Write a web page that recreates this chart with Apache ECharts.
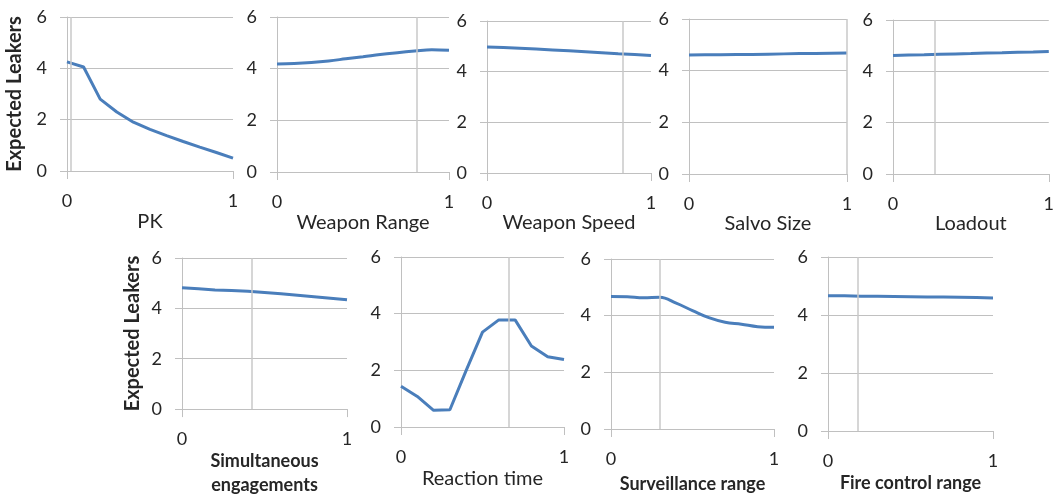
<!DOCTYPE html>
<html><head><meta charset="utf-8">
<script src="https://cdn.jsdelivr.net/npm/echarts@6/dist/echarts.min.js"></script>
<style>html,body{margin:0;padding:0;background:#fff}#c{width:1057px;height:498px}</style>
</head><body><div id="c"></div>
<script>
// ---- data ----
const xValues = [0, 0.1, 0.2, 0.3, 0.4, 0.5, 0.6, 0.7, 0.8, 0.9, 1];
const pk = [4.25, 4.05, 2.8, 2.3, 1.9, 1.62, 1.38, 1.15, 0.93, 0.72, 0.5];
const weaponRange = [4.18, 4.2, 4.24, 4.3, 4.38, 4.46, 4.55, 4.62, 4.68, 4.73, 4.71];
const weaponSpeed = [4.97, 4.95, 4.92, 4.89, 4.86, 4.83, 4.79, 4.75, 4.71, 4.68, 4.64];
const salvoSize = [4.61, 4.62, 4.62, 4.63, 4.63, 4.64, 4.65, 4.66, 4.66, 4.67, 4.68];
const loadout = [4.62, 4.64, 4.65, 4.67, 4.68, 4.69, 4.71, 4.72, 4.74, 4.75, 4.77];
const simultaneous = [4.82, 4.78, 4.73, 4.71, 4.68, 4.63, 4.58, 4.52, 4.46, 4.40, 4.34];
const reactionTime = [1.44, 1.08, 0.59, 0.61, 2.0, 3.35, 3.78, 3.78, 2.86, 2.48, 2.38];
const surveillance = [4.68, 4.67, 4.63, 4.65, 4.44, 4.18, 3.93, 3.77, 3.7, 3.61, 3.59];
const fireControl = [4.66, 4.66, 4.65, 4.65, 4.64, 4.63, 4.62, 4.62, 4.61, 4.60, 4.59];
const panelNames = ['PK', 'Weapon Range', 'Weapon Speed', 'Salvo Size', 'Loadout',
  'Simultaneous\nengagements', 'Reaction time', 'Surveillance range', 'Fire control range'];
const panelValues = [pk, weaponRange, weaponSpeed, salvoSize, loadout, simultaneous, reactionTime, surveillance, fireControl];
const baselineValues = [0.02, 0.81, 0.835, 1.0, 0.27, 0.42, 0.656, 0.305, 0.18];
const smoothFlags = [false, true, false, false, false, false, false, true, false];
const yTicks = [0, 2, 4, 6];
const yTitle = 'Expected Leakers';

// ---- layout ----
const grids = [
  {left: 67, top: 17, width: 166, height: 154},
  {left: 277, top: 17, width: 172, height: 155},
  {left: 487, top: 21, width: 164, height: 152},
  {left: 689, top: 19, width: 158, height: 155},
  {left: 893, top: 20, width: 162, height: 154},
  {left: 182, top: 258, width: 165, height: 166},
  {left: 401, top: 257, width: 163, height: 170},
  {left: 611, top: 259, width: 163, height: 170},
  {left: 828, top: 257, width: 165, height: 174}
];
const boldName = [false, false, false, false, false, true, false, true, true];
const nameGaps = [41, 41, 39, 33, 39, 30, 42, 43, 39];
const showYTitle = [true, false, false, false, false, true, false, false, false];

const font = 'Lato, "Open Sans", "Liberation Sans", sans-serif';
const txt = '#262626';
const gridCol = '#c0c0c0';

const option = {
  animation: false,
  backgroundColor: '#fff',
  grid: grids.map(g => Object.assign({containLabel: false}, g)),
  xAxis: grids.map((g, i) => ({
    type: 'value', gridIndex: i, min: 0, max: 1, interval: 1,
    name: panelNames[i], nameLocation: 'middle', nameGap: nameGaps[i],
    nameTextStyle: boldName[i]
      ? {fontFamily: font, fontSize: 18, fontWeight: 'bold', color: txt, lineHeight: 24}
      : {fontFamily: font, fontSize: 20, color: txt},
    axisLine: {show: true, lineStyle: {color: gridCol, width: 1}},
    axisTick: {show: true, length: 8, lineStyle: {color: gridCol}},
    axisLabel: {fontFamily: font, fontSize: 18, color: txt, margin: 21},
    splitLine: {show: false}
  })),
  yAxis: grids.map((g, i) => ({
    type: 'value', gridIndex: i, min: yTicks[0], max: yTicks[yTicks.length - 1], interval: yTicks[1] - yTicks[0],
    name: showYTitle[i] ? yTitle : '', nameLocation: 'middle', nameGap: i === 0 ? 42 : 39,
    nameRotate: 90,
    nameTextStyle: {fontFamily: font, fontSize: 20, fontWeight: 'bold', color: txt},
    axisLine: {show: true, lineStyle: {color: gridCol, width: 1}},
    axisTick: {show: true, length: 7, lineStyle: {color: gridCol}},
    axisLabel: {fontFamily: font, fontSize: 18, color: txt, margin: 20},
    splitLine: {show: true, lineStyle: {color: gridCol, width: 1}}
  })),
  series: panelValues.map((vals, i) => ({
    type: 'line', xAxisIndex: i, yAxisIndex: i,
    data: xValues.map((x, k) => [x, vals[k]]),
    smooth: smoothFlags[i] ? 0.4 : false,
    showSymbol: false, symbol: 'none',
    lineStyle: {color: '#4a7ebb', width: 3},
    markLine: {
      silent: true, symbol: 'none', label: {show: false},
      lineStyle: {color: '#c8c8c8', width: 1.5, type: 'solid'},
      data: [{xAxis: baselineValues[i]}]
    },
    z: 3
  }))
};
const chart = echarts.init(document.getElementById('c'), null, {renderer: 'canvas'});
chart.setOption(option);
</script></body></html>
